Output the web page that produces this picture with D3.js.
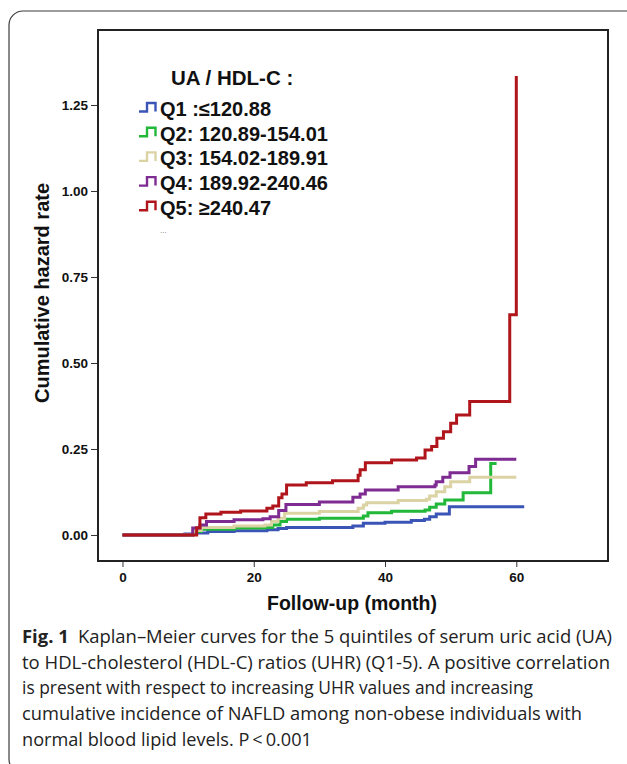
<!doctype html>
<html lang="en">
<head>
  <meta charset="utf-8">
  <title>UHR quintiles - cumulative hazard</title>
  <style>
    body { margin: 0; background: #fff; }
    svg { display: block; }
  </style>
</head>
<body>
  <script src="https://cdn.jsdelivr.net/npm/d3@7/dist/d3.min.js"></script>
  <svg id="chart" width="627" height="764"></svg>
  <script>
    // step points: [month, cumulative hazard]
    var q1 = [[0,0],[9.5,0.003],[11,0.006],[13,0.01],[17,0.012],[22,0.015],[23.7,0.019],[25,0.022],
      [35.1,0.026],[36.7,0.034],[40,0.037],[44,0.042],[46,0.046],[46.8,0.053],[47.8,0.061],[49.8,0.082],[61.2,0.082]];
    var q2 = [[0,0],[10.8,0.01],[12,0.017],[17,0.02],[21.7,0.022],[22.9,0.029],[24,0.039],[25,0.046],[30,0.049],
      [36.7,0.055],[37.4,0.065],[41,0.069],[46.1,0.073],[46.8,0.081],[47.8,0.09],[49.1,0.102],[51.9,0.123],[56.1,0.208],[57,0.208]];
    var q3 = [[0,0],[10.8,0.013],[12,0.022],[17,0.026],[21.7,0.029],[22.7,0.039],[23.7,0.049],[24.7,0.063],[30,0.068],
      [35.9,0.078],[36.7,0.087],[37.2,0.094],[42,0.1],[46.3,0.104],[46.8,0.113],[47.8,0.126],[49.1,0.14],[50,0.155],[52.9,0.168],[60,0.168]];
    var q4 = [[0,0],[10.7,0.02],[11.8,0.029],[12.8,0.039],[17,0.044],[21.4,0.047],[22.5,0.053],[23.8,0.071],[24.9,0.089],[30,0.096],
      [35.1,0.11],[36.2,0.119],[37,0.131],[42,0.14],[47.6,0.145],[47.8,0.155],[48.8,0.168],[49.9,0.181],[52.8,0.199],[53.8,0.22],[60,0.22]];
    var q5 = [[0,0],[11.3,0.021],[11.8,0.05],[12.7,0.061],[15,0.066],[18,0.07],[22,0.078],[22.9,0.084],[23.8,0.108],[24.3,0.119],[25,0.145],
      [28,0.152],[32,0.158],[35.9,0.174],[36.2,0.19],[37,0.21],[41,0.218],[44.8,0.224],[46.1,0.247],[47.1,0.257],[47.9,0.281],
      [48.9,0.30],[50,0.325],[50.9,0.349],[52.9,0.388],[59,0.64],[60,1.334]];

    var groupNames = ["Q1 :\u2264120.88", "Q2: 120.89-154.01", "Q3: 154.02-189.91", "Q4: 189.92-240.46", "Q5: \u2265240.47"];
    var groupColors = ["#3b55b6", "#22b83a", "#dbd3a4", "#7e2b92", "#b0151b"];
    var xTicks = [0, 20, 40, 60];
    var yTicks = [0, 0.25, 0.5, 0.75, 1.0, 1.25];
    var caption = [
      "Kaplan\u2013Meier curves for the 5 quintiles of serum uric acid (UA)",
      "to HDL-cholesterol (HDL-C) ratios (UHR) (Q1-5). A positive correlation",
      "is present with respect to increasing UHR values and increasing",
      "cumulative incidence of NAFLD among non-obese individuals with",
      "normal blood lipid levels. P\u2009<\u20090.001"
    ];
    var captionWidths = [590, 588, 511, 560, 290];

    var series = [q1, q2, q3, q4, q5];
    var svg = d3.select("#chart");
    var font = "'Liberation Sans', Arial, sans-serif";

    // outer figure box
    svg.append("rect")
      .attr("x", 9).attr("y", 11).attr("width", 640).attr("height", 762).attr("rx", 14)
      .attr("fill", "none").attr("stroke", "#3a3a3a").attr("stroke-width", 1.2);

    var x = d3.scaleLinear().domain([-3.73, 73.97]).range([98, 608]);
    var y = d3.scaleLinear().domain([-0.0756, 1.468]).range([561, 30]);

    // axes (ticks outside the frame)
    var xAxis = svg.append("g").attr("transform", "translate(0,561)")
      .call(d3.axisBottom(x).tickValues(xTicks).tickSize(6).tickPadding(5).tickFormat(d3.format("d")));
    var yAxis = svg.append("g").attr("transform", "translate(98,0)")
      .call(d3.axisLeft(y).tickValues(yTicks).tickSize(7).tickPadding(3).tickFormat(d3.format(".2f")));
    [xAxis, yAxis].forEach(function(a) {
      a.select(".domain").remove();
      a.selectAll("line").attr("stroke", "#333").attr("stroke-width", 1);
      a.selectAll("text").attr("font-family", font).attr("font-weight", "bold")
        .attr("font-size", "13.5px").attr("fill", "#111");
    });

    // plot frame
    svg.append("rect")
      .attr("x", 98).attr("y", 30).attr("width", 510).attr("height", 531)
      .attr("fill", "none").attr("stroke", "#222").attr("stroke-width", 2);

    var line = d3.line()
      .x(function(d) { return x(d[0]); })
      .y(function(d) { return y(d[1]); })
      .curve(d3.curveStepAfter);

    svg.append("g").selectAll("path")
      .data(series)
      .enter()
      .append("path")
        .attr("d", line)
        .attr("fill", "none")
        .attr("stroke", function(d, i) { return groupColors[i]; })
        .attr("stroke-width", 3)
        .attr("stroke-linejoin", "miter");

    // axis titles
    svg.append("text")
      .attr("x", 352).attr("y", 610)
      .attr("text-anchor", "middle")
      .attr("font-family", font).attr("font-weight", "bold").attr("font-size", "19.5px").attr("fill", "#111")
      .text("Follow-up (month)");
    svg.append("text")
      .attr("transform", "translate(49,293) rotate(-90)")
      .attr("text-anchor", "middle")
      .attr("font-family", font).attr("font-weight", "bold").attr("font-size", "20px").attr("fill", "#111")
      .text("Cumulative hazard rate");

    // legend
    var legend = svg.append("g");
    legend.append("text")
      .attr("x", 171).attr("y", 85)
      .attr("font-family", font).attr("font-weight", "bold").attr("font-size", "20.5px").attr("fill", "#111")
      .text("UA / HDL-C :");
    var item = legend.selectAll("g.item")
      .data(groupNames)
      .enter()
      .append("g")
        .attr("class", "item")
        .attr("transform", function(d, i) { return "translate(0," + (116 + i * 24.7) + ")"; });
    item.append("path")
      .attr("d", "M139,-4.5 H147 V-13 H155.5 V-4.5")
      .attr("fill", "none")
      .attr("stroke", function(d, i) { return groupColors[i]; })
      .attr("stroke-width", 2.4);
    item.append("text")
      .attr("x", 160).attr("y", 0)
      .attr("font-family", font).attr("font-weight", "bold").attr("font-size", "20px").attr("fill", "#111")
      .text(function(d) { return d; });
    legend.append("text")
      .attr("x", 160).attr("y", 233)
      .attr("font-family", font).attr("font-size", "8px").attr("fill", "#777")
      .text("...");

    // caption
    var cap = svg.append("g");
    caption.forEach(function(s, i) {
      var t = cap.append("text")
        .attr("x", 22).attr("y", 643 + i * 25.7)
        .attr("textLength", captionWidths[i])
        .attr("lengthAdjust", "spacingAndGlyphs")
        .attr("font-family", "'Liberation Sans Narrow', 'Open Sans', 'Noto Sans', sans-serif")
        .attr("font-size", "18px").attr("fill", "#222");
      if (i === 0) {
        t.append("tspan").attr("font-weight", "bold").text("Fig. 1");
        t.append("tspan").text("\u2002" + s);
      } else {
        t.text(s);
      }
    });
  </script>
</body>
</html>
